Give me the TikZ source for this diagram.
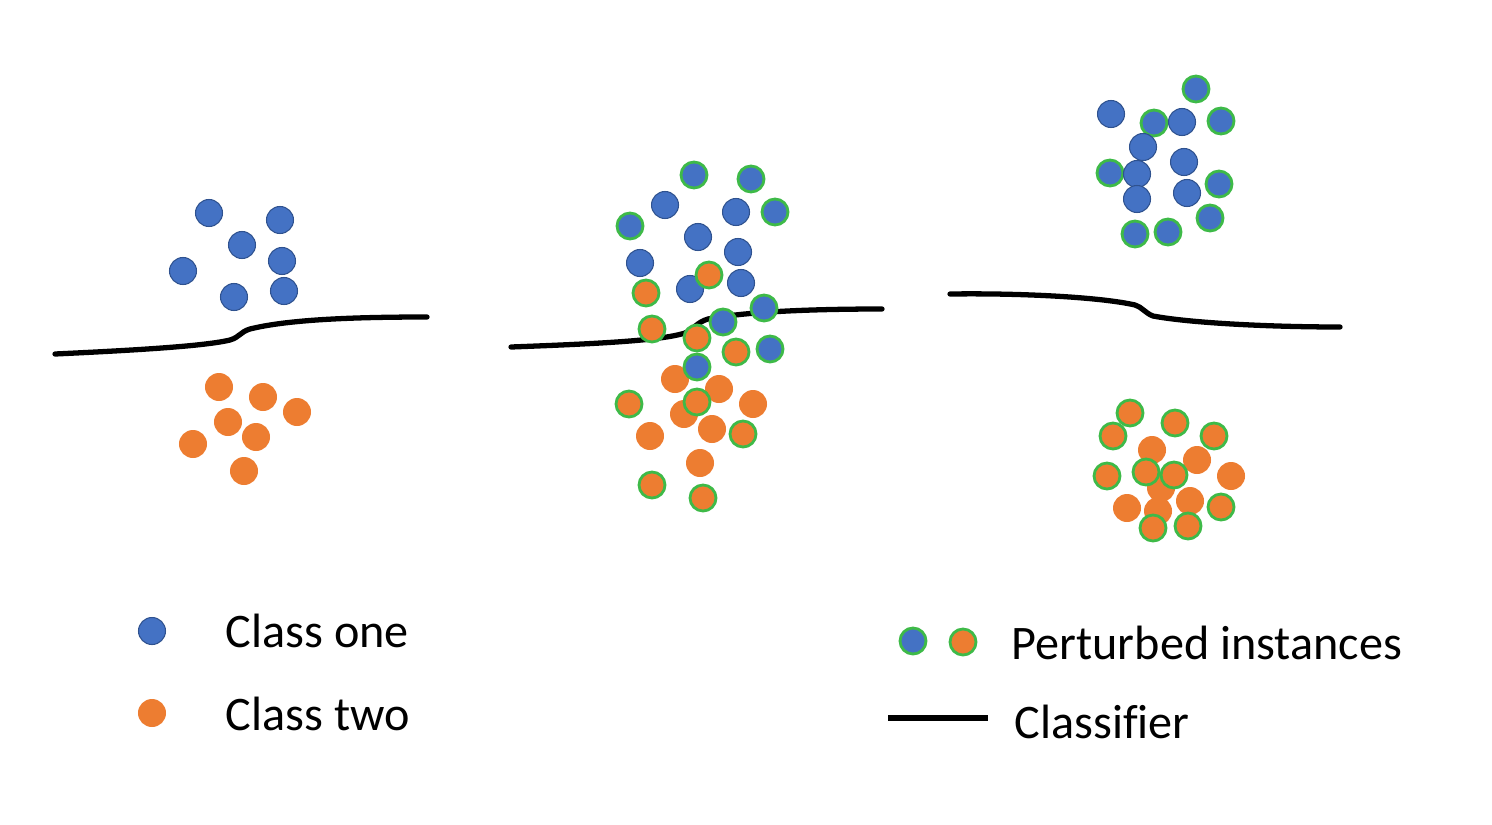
\documentclass[tikz,border=0pt]{standalone}
\usepackage{fontspec}
\setmainfont{Carlito}[Ligatures=CommonOff]
\definecolor{oneblue}{RGB}{68,114,196}
\definecolor{oneedge}{RGB}{47,82,143}
\definecolor{twoorange}{RGB}{237,125,49}
\definecolor{pertgreen}{RGB}{62,186,72}
\begin{document}
\begin{tikzpicture}[x=0.01cm, y=-0.01cm, line join=round, line cap=round,
	dotone/.style={fill=oneblue, draw=oneedge, line width=0.3pt},
	dottwo/.style={fill=twoorange},
	pertone/.style={fill=oneblue, draw=pertgreen, line width=0.8pt},
	perttwo/.style={fill=twoorange, draw=pertgreen, line width=0.8pt},
	classifier/.style={line width=1.5pt},
	legendtext/.style={font=\fontsize{13.7}{16}\selectfont, anchor=base west, inner sep=0pt}]
	\useasboundingbox (0,0) rectangle (1492,824);
	
	% Bang 1: du lieu goc
	\draw[classifier] (55,354) .. controls (140,350) and (205,346) .. (230,340)
		.. controls (240,337) and (240,332) .. (250,329)
		.. controls (290,319) and (360,317) .. (427,317);
	\foreach \p in {(209,213),(280,220),(242,245),(282,261),(183,271),(234,297),(284,291)}
		\draw[dotone] \p circle[radius=0.135cm];
	\foreach \p in {(219,387),(263,397),(297,412),(228,422),(193,444),(256,437),(244,471)}
		\fill[dottwo] \p circle[radius=0.14cm];
	
	% Bang 2: nhieu gan bien
	\draw[classifier] (511,347) .. controls (590,344) and (660,341) .. (685,333)
		.. controls (693,330) and (697,322) .. (708,319)
		.. controls (750,311) and (820,309) .. (882,309);
	\foreach \p in {(665,205),(736,212),(698,237),(738,252),(640,263),(690,289),(741,283)}
		\draw[dotone] \p circle[radius=0.135cm];
	\foreach \p in {(675,379),(719,389),(684,414),(753,404),(650,436),(712,429),(700,463)}
		\fill[dottwo] \p circle[radius=0.14cm];
	\foreach \p in {(694,175),(751,179),(775,212),(630,226),(764,308),(723,322),(770,349),(697,367)}
		\draw[pertone] \p circle[radius=0.13cm];
	\foreach \p in {(709,275),(646,293),(652,329),(697,338),(736,352),(629,404),(697,402),(743,434),(652,485),(703,498)}
		\draw[perttwo] \p circle[radius=0.13cm];
	
	% Bang 3: nhieu xa bien
	\draw[classifier] (950,294) .. controls (1020,293) and (1100,297) .. (1135,305)
		.. controls (1142,307) and (1145,313) .. (1153,316)
		.. controls (1190,323) and (1270,327) .. (1340,327);
	\foreach \p in {(1196,89),(1154,123),(1221,121),(1110,173),(1219,184),(1210,218),(1135,234),(1168,232)}
		\draw[pertone] \p circle[radius=0.13cm];
	\foreach \p in {(1111,114),(1182,122),(1143,147),(1184,162),(1137,174),(1137,199),(1187,193)}
		\draw[dotone] \p circle[radius=0.135cm];
	\foreach \p in {(1152,450),(1197,460),(1231,476),(1161,488),(1127,508),(1190,501),(1158,511)}
		\fill[dottwo] \p circle[radius=0.14cm];
	\foreach \p in {(1130,413),(1175,423),(1113,436),(1214,436),(1107,476),(1146,472),(1174,475),(1221,507),(1153,528),(1188,526)}
		\draw[perttwo] \p circle[radius=0.13cm];
	
	% Chu thich
	\draw[dotone] (152,631) circle[radius=0.135cm];
	\fill[dottwo] (152,713) circle[radius=0.14cm];
	\node[legendtext] (one) at (225,647) {Class one};
	\node[legendtext] (two) at (225,730) {Class two};
	\draw[pertone] (913,641) circle[radius=0.13cm];
	\draw[perttwo] (963,642) circle[radius=0.13cm];
	\node[legendtext] (pert) at (1011,659) {Perturbed instances};
	\coordinate (clsA) at (888,718);
	\coordinate (clsB) at (988,718);
	\draw[classifier, line width=1.7pt, line cap=butt] (clsA) -- (clsB);
	\node[legendtext] (cls) at (1014,738) {Classifier};
\end{tikzpicture}
\end{document}
